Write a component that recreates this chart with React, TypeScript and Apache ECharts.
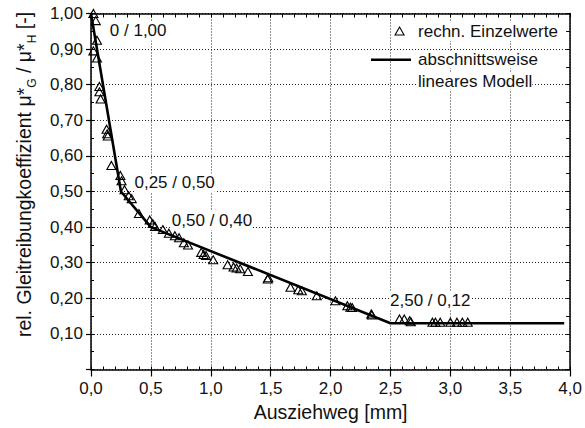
import React, { useEffect, useRef } from "react";
import * as echarts from "echarts";

// ---- data ----
const scatterName = "rechn. Einzelwerte";
const modelName = "abschnittsweise lineares Modell";

const scatterX = [
  0.02, 0.04, 0.05, 0.02, 0.05, 0.07, 0.07, 0.08, 0.13, 0.135, 0.14, 0.17,
  0.245, 0.255, 0.28, 0.315, 0.34, 0.4, 0.49, 0.515, 0.535, 0.6, 0.65, 0.7,
  0.735, 0.775, 0.81, 0.92, 0.94, 0.96, 1.02, 1.14, 1.19, 1.215, 1.245, 1.31,
  1.475, 1.48, 1.665, 1.73, 1.76, 1.885, 2.04, 2.14, 2.165, 2.18, 2.34, 2.345,
  2.575, 2.615, 2.66, 2.67, 2.85, 2.875, 2.915, 3.0, 3.055, 3.1, 3.145,
];
const scatterY = [
  1.0, 0.98, 0.925, 0.895, 0.875, 0.795, 0.78, 0.76, 0.675, 0.662, 0.656, 0.573,
  0.545, 0.53, 0.505, 0.488, 0.48, 0.438, 0.42, 0.41, 0.402, 0.393, 0.383, 0.376,
  0.37, 0.356, 0.35, 0.329, 0.323, 0.32, 0.308, 0.294, 0.288, 0.285, 0.283, 0.275,
  0.254, 0.258, 0.231, 0.224, 0.221, 0.207, 0.193, 0.179, 0.175, 0.174, 0.156, 0.153,
  0.142, 0.142, 0.137, 0.134, 0.133, 0.133, 0.133, 0.133, 0.133, 0.133, 0.133,
];

const modelX = [0, 0.25, 0.5, 2.5, 3.95];
const modelY = [1.0, 0.5, 0.4, 0.13, 0.13];

const annotText = ["0 / 1,00", "0,25 / 0,50", "0,50 / 0,40", "2,50 / 0,12"];
const annotX = [0.157, 0.363, 0.675, 2.496];
const annotY = [0.951, 0.524, 0.418, 0.193];

const xTickLabels = ["0,0", "0,5", "1,0", "1,5", "2,0", "2,5", "3,0", "3,5", "4,0"];
const yTickLabels = ["", "0,10", "0,20", "0,30", "0,40", "0,50", "0,60", "0,70", "0,80", "0,90", "1,00"];

const FONT = '"Liberation Sans", Arial, Helvetica, sans-serif';
const TXT = "#111";

export default function App() {
  const ref = useRef<HTMLDivElement>(null);

  useEffect(() => {
    if (!ref.current) return;
    const chart = echarts.init(ref.current, undefined, { renderer: "svg" });

    const black = { color: "#000", width: 1.5 };
    const grid = { lineStyle: { color: "#222", width: 1, type: [1, 2] as any } };

    chart.setOption({
      animation: false,
      backgroundColor: "#fff",
      textStyle: { fontFamily: FONT },
      grid: { left: 91, right: 11, top: 13.5, bottom: 58.5, containLabel: false },
      legend: [
        {
          data: [{ name: scatterName, icon: "triangle" }],
          left: 394.5,
          top: 21,
          padding: 0,
          itemWidth: 9,
          itemHeight: 8,
          itemStyle: { color: "rgba(0,0,0,0)", borderColor: "#000", borderWidth: 1.1, opacity: 1 },
          textStyle: {
            fontSize: 17,
            lineHeight: 20,
            color: TXT,
            fontFamily: FONT,
            backgroundColor: "#fff",
            padding: [0, 0, 0, 9],
          },
        },
        {
          data: [{ name: modelName, icon: "rect" }],
          left: 371,
          top: 29.75,
          padding: 0,
          itemWidth: 40,
          itemHeight: 2.6,
          itemStyle: { color: "#000", opacity: 1 },
          formatter: () => "{e| }\n{a|abschnittsweise}\n{a|lineares Modell}",
          textStyle: {
            fontSize: 17,
            color: TXT,
            fontFamily: FONT,
            padding: [0, 0, 0, 2],
            rich: {
              a: { fontSize: 17, lineHeight: 21.5, color: TXT, fontFamily: FONT, backgroundColor: "#fff" },
              e: { fontSize: 17, lineHeight: 21.5 },
            },
          },
        },
      ],
      xAxis: [
        {
          type: "value",
          position: "bottom",
          min: 0,
          max: 4,
          interval: 0.5,
          axisLine: { show: true, onZero: false, lineStyle: black },
          axisTick: { show: true, inside: false, length: 7, lineStyle: { color: "#000", width: 1.2 } },
          axisLabel: {
            margin: 10.5,
            fontSize: 17,
            color: TXT,
            fontFamily: FONT,
            formatter: (v: number) => xTickLabels[Math.round(v * 2)] ?? "",
          },
          splitLine: { show: true, ...grid },
          name: "Ausziehweg [mm]",
          nameLocation: "middle",
          nameGap: 32,
          nameTextStyle: { fontSize: 19.5, lineHeight: 20, color: TXT, fontFamily: FONT },
        },
        {
          type: "value",
          position: "bottom",
          min: 0,
          max: 4,
          interval: 0.1,
          axisLine: { show: false, onZero: false },
          axisTick: { show: true, inside: true, length: 3, lineStyle: { color: "#000", width: 1 } },
          axisLabel: { show: false },
          splitLine: { show: false },
        },
        {
          type: "value",
          position: "top",
          min: 0,
          max: 4,
          interval: 0.1,
          axisLine: { show: true, onZero: false, lineStyle: black },
          axisTick: { show: true, inside: true, length: 4, lineStyle: { color: "#000", width: 1 } },
          axisLabel: { show: false },
          splitLine: { show: false },
        },
      ],
      yAxis: [
        {
          type: "value",
          position: "left",
          min: 0,
          max: 1,
          interval: 0.1,
          axisLine: { show: true, onZero: false, lineStyle: black },
          axisTick: { show: true, inside: false, length: 5, lineStyle: { color: "#000", width: 1.2 } },
          axisLabel: {
            margin: 8,
            fontSize: 17,
            color: TXT,
            fontFamily: FONT,
            formatter: (v: number) => yTickLabels[Math.round(v * 10)] ?? "",
          },
          splitLine: { show: true, ...grid },
          name: "{a|rel. Gleitreibungkoeffizient μ*}{s|G}{a| / μ*}{s|H}{a| [-]}",
          nameLocation: "middle",
          nameRotate: 90,
          nameGap: 53,
          nameTextStyle: {
            color: TXT,
            fontFamily: FONT,
            padding: [0, 0, 0, 34],
            rich: {
              a: { fontSize: 19.5, lineHeight: 28, color: TXT, fontFamily: FONT },
              s: { fontSize: 12, lineHeight: 12, verticalAlign: "bottom", color: TXT, fontFamily: FONT },
            },
          },
        },
        {
          type: "value",
          position: "left",
          min: 0,
          max: 1,
          interval: 0.05,
          axisLine: { show: false, onZero: false },
          axisTick: { show: true, inside: true, length: 3, lineStyle: { color: "#000", width: 1 } },
          axisLabel: { show: false },
          splitLine: { show: false },
        },
        {
          type: "value",
          position: "right",
          min: 0,
          max: 1,
          interval: 0.05,
          axisLine: { show: true, onZero: false, lineStyle: black },
          axisTick: { show: true, inside: true, length: 4, lineStyle: { color: "#000", width: 1 } },
          axisLabel: { show: false },
          splitLine: { show: false },
        },
      ],
      series: [
        {
          type: "line",
          name: modelName,
          xAxisIndex: 0,
          yAxisIndex: 0,
          data: modelX.map((x, i) => [x, modelY[i]]),
          symbol: "none",
          lineStyle: { color: "#000", width: 2.6 },
          itemStyle: { color: "#000" },
          z: 2,
        },
        {
          type: "scatter",
          name: scatterName,
          xAxisIndex: 0,
          yAxisIndex: 0,
          data: scatterX.map((x, i) => [x, scatterY[i]]),
          symbol: "triangle",
          symbolSize: [9, 8],
          itemStyle: { color: "rgba(0,0,0,0)", borderColor: "#000", borderWidth: 1.1, opacity: 1 },
          z: 3,
        },
        {
          type: "scatter",
          name: "annotations",
          xAxisIndex: 0,
          yAxisIndex: 0,
          silent: true,
          symbolSize: 0,
          itemStyle: { opacity: 1 },
          data: annotX.map((x, i) => ({ value: [x, annotY[i]], name: annotText[i] })),
          label: {
            show: true,
            position: "right",
            distance: 0,
            formatter: (p: any) => p.name,
            fontSize: 17,
            lineHeight: 19,
            color: TXT,
            fontFamily: FONT,
            backgroundColor: "#fff",
          },
          z: 4,
        },
      ],
    });

    return () => chart.dispose();
  }, []);

  return (
    <div
      ref={ref}
      style={{ position: "fixed", left: 0, top: 0, width: 585, height: 428 }}
    />
  );
}
